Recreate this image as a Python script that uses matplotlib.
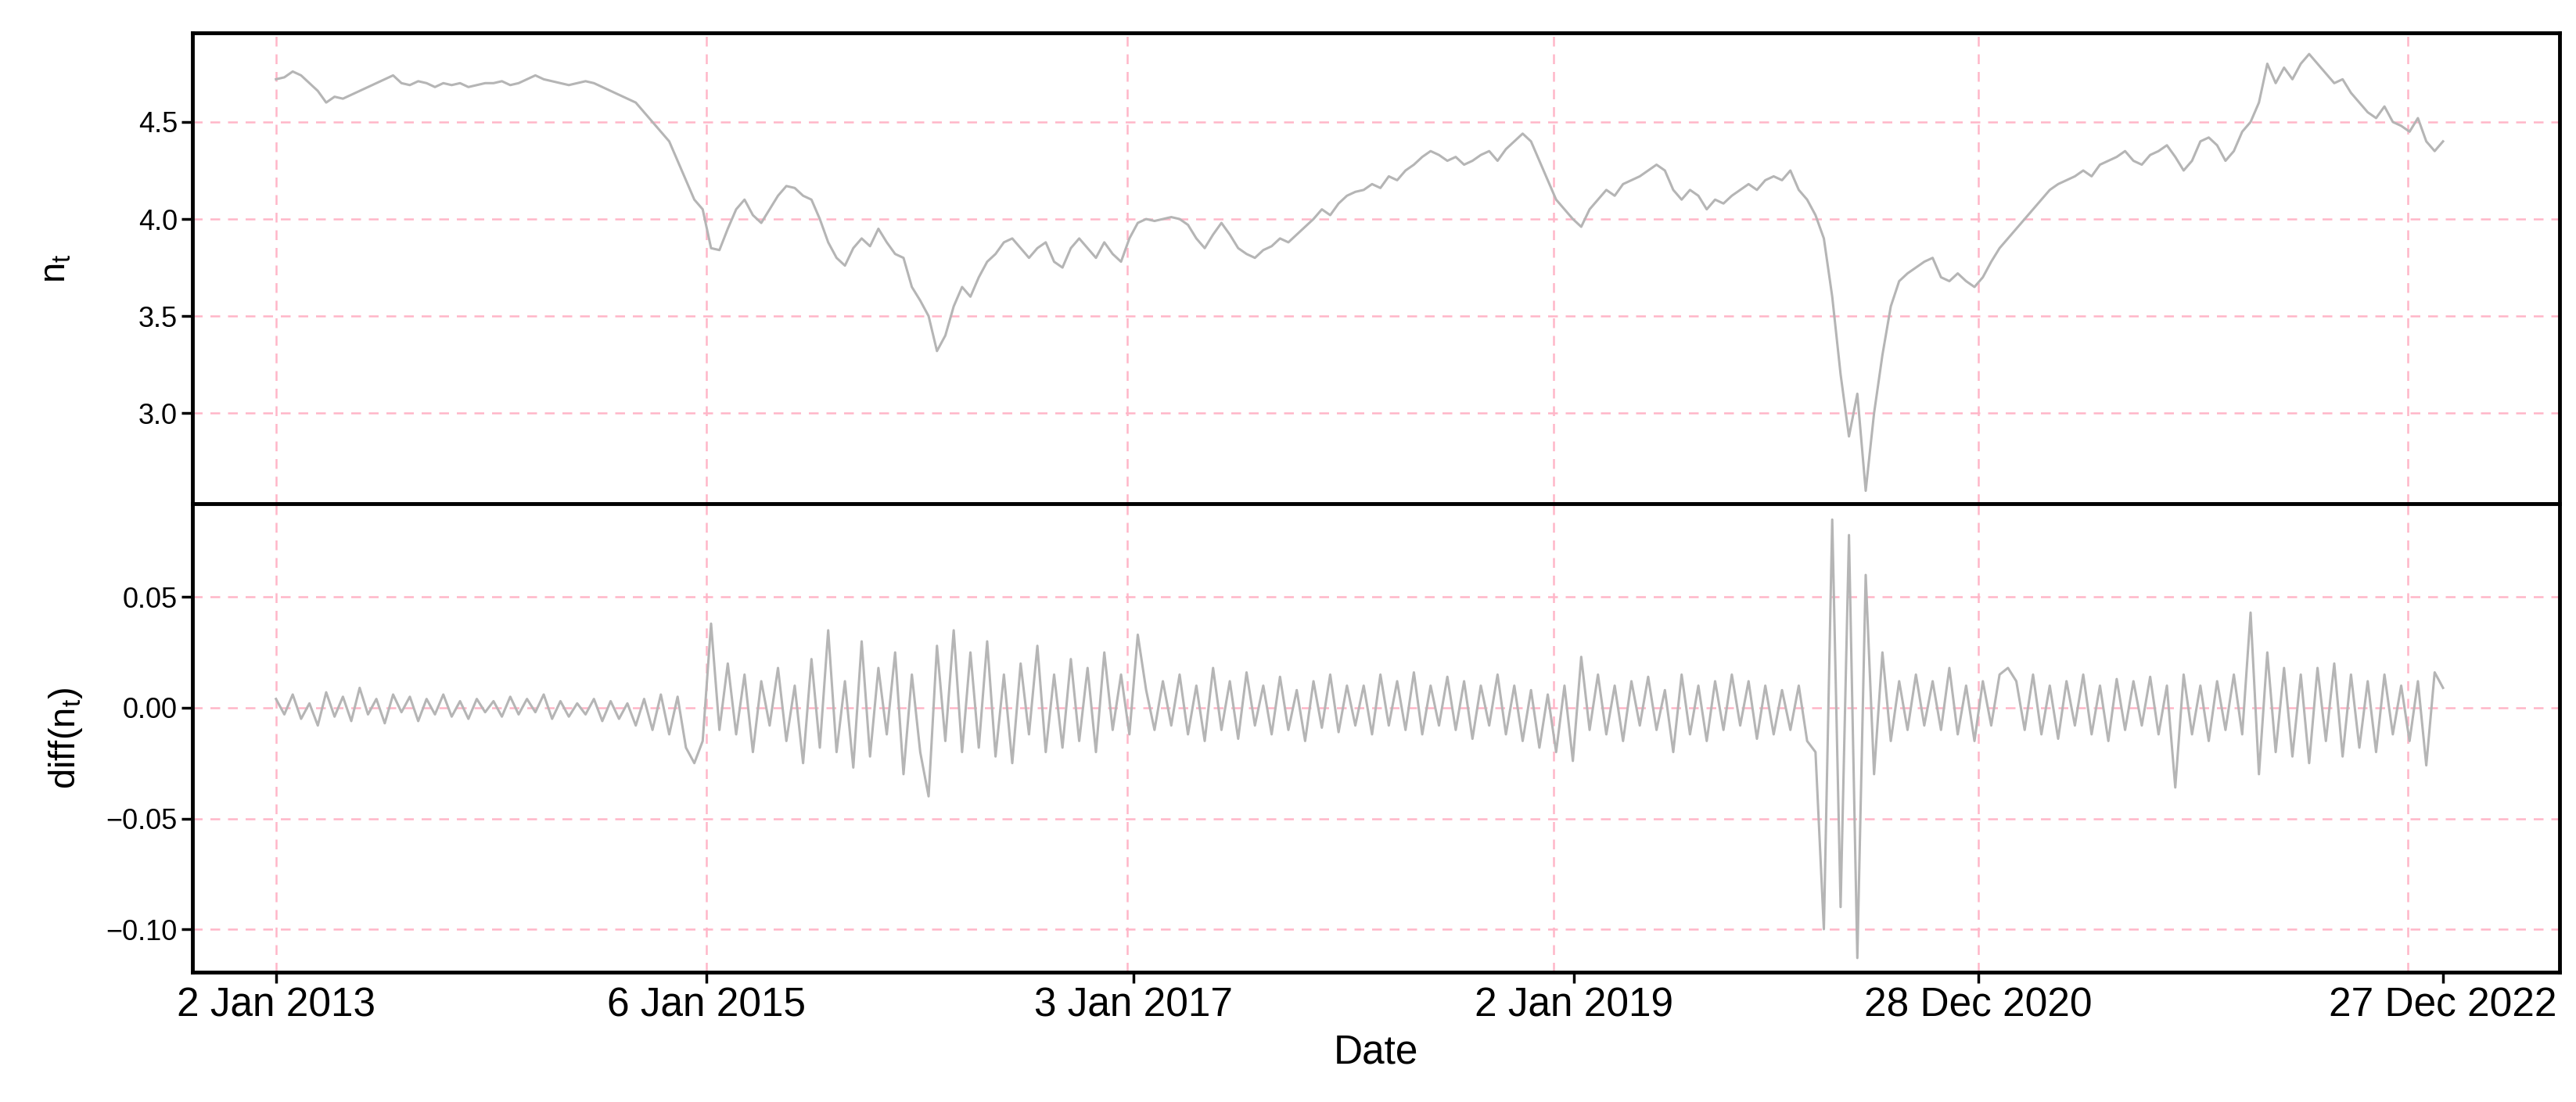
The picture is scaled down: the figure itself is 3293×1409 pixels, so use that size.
import numpy as np
import pandas as pd
import matplotlib
matplotlib.use("Agg")
import matplotlib.pyplot as plt

start, end = "2013-01-02", "2022-12-27"
n_t = [
 4.72,4.73,4.76,4.74,4.70,4.66,4.60,4.63,4.62,4.64,4.66,4.68,4.70,4.72,4.74,4.70,4.69,4.71,4.70,4.68,4.70,4.69,4.70,4.68,4.69,4.70,
 4.70,4.71,4.69,4.70,4.72,4.74,4.72,4.71,4.70,4.69,4.70,4.71,4.70,4.68,4.66,4.64,4.62,4.60,4.55,4.50,4.45,4.40,4.30,4.20,4.10,4.05,
 3.85,3.84,3.95,4.05,4.10,4.02,3.98,4.05,4.12,4.17,4.16,4.12,4.10,4.00,3.88,3.80,3.76,3.85,3.90,3.86,3.95,3.88,3.82,3.80,3.65,3.58,
 3.50,3.32,3.40,3.55,3.65,3.60,3.70,3.78,3.82,3.88,3.90,3.85,3.80,3.85,3.88,3.78,3.75,3.85,3.90,3.85,3.80,3.88,3.82,3.78,3.90,3.98,
 4.00,3.99,4.00,4.01,4.00,3.97,3.90,3.85,3.92,3.98,3.92,3.85,3.82,3.80,3.84,3.86,3.90,3.88,3.92,3.96,4.00,4.05,4.02,4.08,4.12,4.14,
 4.15,4.18,4.16,4.22,4.20,4.25,4.28,4.32,4.35,4.33,4.30,4.32,4.28,4.30,4.33,4.35,4.30,4.36,4.40,4.44,4.40,4.30,4.20,4.10,4.05,4.00,
 3.96,4.05,4.10,4.15,4.12,4.18,4.20,4.22,4.25,4.28,4.25,4.15,4.10,4.15,4.12,4.05,4.10,4.08,4.12,4.15,4.18,4.15,4.20,4.22,4.20,4.25,
 4.15,4.10,4.02,3.90,3.60,3.20,2.88,3.10,2.60,3.00,3.30,3.55,3.68,3.72,3.75,3.78,3.80,3.70,3.68,3.72,3.68,3.65,3.70,3.78,3.85,3.90,
 3.95,4.00,4.05,4.10,4.15,4.18,4.20,4.22,4.25,4.22,4.28,4.30,4.32,4.35,4.30,4.28,4.33,4.35,4.38,4.32,4.25,4.30,4.40,4.42,4.38,4.30,
 4.35,4.45,4.50,4.60,4.80,4.70,4.78,4.72,4.80,4.85,4.80,4.75,4.70,4.72,4.65,4.60,4.55,4.52,4.58,4.50,4.48,4.45,4.52,4.40,4.35,4.40,
]
diff_n = [
 0.004,-0.003,0.006,-0.005,0.002,-0.008,0.007,-0.004,0.005,-0.006,0.009,-0.003,0.004,-0.007,0.006,-0.002,0.005,-0.006,0.004,-0.003,0.006,-0.004,0.003,-0.005,0.004,-0.002,
 0.003,-0.004,0.005,-0.003,0.004,-0.002,0.006,-0.005,0.003,-0.004,0.002,-0.003,0.004,-0.006,0.003,-0.005,0.002,-0.008,0.004,-0.010,0.006,-0.012,0.005,-0.018,-0.025,-0.015,
 0.038,-0.010,0.020,-0.012,0.015,-0.020,0.012,-0.008,0.018,-0.015,0.010,-0.025,0.022,-0.018,0.035,-0.020,0.012,-0.027,0.030,-0.022,0.018,-0.012,0.025,-0.030,0.015,-0.020,
 -0.040,0.028,-0.015,0.035,-0.020,0.025,-0.018,0.030,-0.022,0.015,-0.025,0.020,-0.012,0.028,-0.020,0.015,-0.018,0.022,-0.015,0.018,-0.020,0.025,-0.010,0.015,-0.012,0.033,
 0.008,-0.010,0.012,-0.008,0.015,-0.012,0.010,-0.015,0.018,-0.010,0.012,-0.014,0.016,-0.008,0.010,-0.012,0.014,-0.010,0.008,-0.015,0.012,-0.009,0.015,-0.011,0.010,-0.008,
 0.010,-0.012,0.015,-0.008,0.012,-0.010,0.016,-0.012,0.010,-0.008,0.014,-0.010,0.012,-0.014,0.010,-0.008,0.015,-0.012,0.010,-0.015,0.008,-0.018,0.006,-0.020,0.010,-0.024,
 0.023,-0.010,0.015,-0.012,0.010,-0.015,0.012,-0.008,0.014,-0.010,0.008,-0.020,0.015,-0.012,0.010,-0.015,0.012,-0.010,0.015,-0.008,0.012,-0.014,0.010,-0.012,0.008,-0.010,
 0.010,-0.015,-0.020,-0.100,0.085,-0.090,0.078,-0.113,0.060,-0.030,0.025,-0.015,0.012,-0.010,0.015,-0.008,0.012,-0.010,0.018,-0.012,0.010,-0.015,0.012,-0.008,0.015,0.018,
 0.012,-0.010,0.015,-0.012,0.010,-0.014,0.012,-0.008,0.015,-0.012,0.010,-0.015,0.013,-0.010,0.012,-0.008,0.014,-0.012,0.010,-0.036,0.015,-0.012,0.010,-0.015,0.012,-0.010,
 0.015,-0.012,0.043,-0.030,0.025,-0.020,0.018,-0.022,0.015,-0.025,0.018,-0.015,0.020,-0.022,0.015,-0.018,0.012,-0.020,0.015,-0.012,0.010,-0.015,0.012,-0.026,0.016,0.009,
]
tick_dates = ["2013-01-02","2014-12-27","2016-12-15","2018-12-26","2020-11-05","2022-12-27"]
tick_labels = ["2 Jan 2013","6 Jan 2015","3 Jan 2017","2 Jan 2019","28 Dec 2020","27 Dec 2022"]
grid_dates = ["2013-01-02","2014-12-27","2016-12-04","2018-11-22","2020-11-05","2022-10-29"]

s, e = pd.Timestamp(start), pd.Timestamp(end)
dates = pd.to_datetime(np.linspace(s.value, e.value, len(n_t)))
dates2 = pd.to_datetime(np.linspace(s.value, e.value, len(diff_n)))

plt.rcParams['font.family'] = ['Liberation Sans', 'DejaVu Sans']
fig = plt.figure(figsize=(32.93, 14.09), dpi=100)
L, R = 0.0746, 0.9936
ax1 = fig.add_axes([L, 0.543, R-L, 0.97-0.543])
ax2 = fig.add_axes([L, 0.118, R-L, 0.543-0.118], sharex=ax1)
grid_kw = dict(color='#ffb6c8', ls=(0, (5, 4)), lw=1.8, zorder=0)
for ax in (ax1, ax2):
    for gd in grid_dates:
        ax.axvline(pd.Timestamp(gd), **grid_kw)
    for sp in ax.spines.values():
        sp.set_linewidth(3.5)
    ax.tick_params(labelsize=26, width=2.5, length=10)
for y in [3.0, 3.5, 4.0, 4.5]:
    ax1.axhline(y, **grid_kw)
for y in [-0.10, -0.05, 0.0, 0.05]:
    ax2.axhline(y, **grid_kw)
ax1.plot(dates, n_t, color='#b5b5b5', lw=2.2)
ax2.plot(dates2, diff_n, color='#b5b5b5', lw=2.2)
ax1.set_ylim(2.534, 4.958)
ax2.set_ylim(-0.1193, 0.0922)
ax1.set_yticks([3.0, 3.5, 4.0, 4.5])
ax1.set_yticklabels(["3.0", "3.5", "4.0", "4.5"])
ax2.set_yticks([-0.10, -0.05, 0.0, 0.05])
ax2.set_yticklabels(["\u22120.10", "\u22120.05", "0.00", "0.05"])
ax1.set_xlim(s - pd.Timedelta(days=141), e + pd.Timedelta(days=196))
ax2.set_xticks([pd.Timestamp(t) for t in tick_dates])
ax2.set_xticklabels(tick_labels, fontsize=37)
ax1.tick_params(axis='x', bottom=False, labelbottom=False)
ax1.set_ylabel(r"$\mathregular{n_t}$", fontsize=34, labelpad=60)
ax2.set_ylabel(r"$\mathregular{diff(n_t)}$", fontsize=34, labelpad=20)
ax2.set_xlabel("Date", fontsize=37, labelpad=8)
fig.savefig("out.png", dpi=100)
